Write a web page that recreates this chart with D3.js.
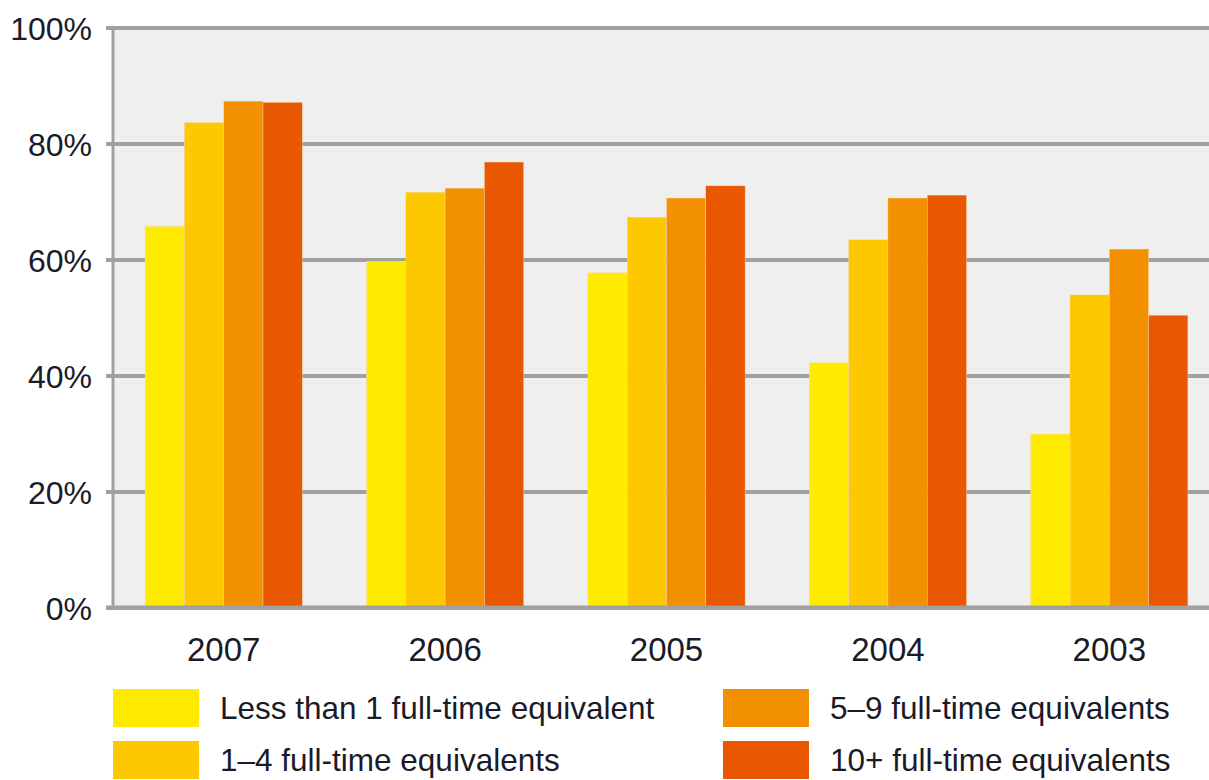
<!DOCTYPE html>
<html>
<head>
<meta charset="utf-8">
<script src="https://cdn.jsdelivr.net/npm/d3@7"></script>
<style>
  body { margin: 0; background: #fff; }
  svg text { font-family: "Liberation Sans", Arial, sans-serif; fill: #1a1a28; }
</style>
</head>
<body>
<svg id="chart" width="1209" height="780"></svg>
<script>
// categories and series
var years = ["2007", "2006", "2005", "2004", "2003"];
var seriesNames = ["Less than 1 full-time equivalent", "1\u20134 full-time equivalents",
                   "5\u20139 full-time equivalents", "10+ full-time equivalents"];
var lessThan1 = [65.7, 59.7, 57.7, 42.2, 29.9];
var oneToFour = [83.6, 71.6, 67.3, 63.4, 53.9];
var fiveToNine = [87.3, 72.3, 70.6, 70.6, 61.8];
var tenPlus = [87.1, 76.8, 72.7, 71.1, 50.4];
var yTicks = [0, 20, 40, 60, 80, 100];
var colors = ["#ffeb00", "#fdc800", "#f39000", "#e95700"];

var seriesValues = [lessThan1, oneToFour, fiveToNine, tenPlus];

var svg = d3.select("#chart"),
    margin = {top: 27.5, left: 113, bottom: 607.5, right: 1220};

var x0 = d3.scaleBand().domain(years).range([margin.left, margin.right])
    .paddingInner(0.29).paddingOuter(0.145);
var x1 = d3.scaleBand().domain(d3.range(seriesNames.length)).range([0, x0.bandwidth()]);
var y = d3.scaleLinear().domain([0, 100]).range([margin.bottom, margin.top]);

// plot background
svg.append("rect")
    .attr("x", margin.left).attr("y", margin.top)
    .attr("width", 1209 - margin.left).attr("height", margin.bottom - margin.top)
    .attr("fill", "#efefef");

// gridlines + y labels
var yAxis = svg.append("g")
    .attr("transform", "translate(" + margin.left + ",0)")
    .call(d3.axisLeft(y).tickValues(yTicks).tickSize(-(1209 - margin.left)).tickPadding(20)
        .tickFormat(function(d) { return d + "%"; }));
yAxis.select(".domain").remove();
yAxis.selectAll(".tick line")
    .attr("x1", -7)
    .attr("stroke", "#a0a0a0").attr("stroke-width", 4);
yAxis.selectAll(".tick text")
    .attr("font-size", 32).attr("x", -21).attr("dy", "0.36em");

// left axis line
svg.append("line")
    .attr("x1", margin.left).attr("x2", margin.left)
    .attr("y1", margin.top).attr("y2", margin.bottom)
    .attr("stroke", "#a0a0a0").attr("stroke-width", 3);

// bars
var groups = svg.selectAll(".year")
    .data(years)
    .enter().append("g")
    .attr("class", "year")
    .attr("transform", function(d) { return "translate(" + x0(d) + ",0)"; });

groups.selectAll("rect")
    .data(function(d, i) { return seriesValues.map(function(s, k) { return {k: k, v: s[i]}; }); })
    .enter().append("rect")
    .attr("x", function(d) { return x1(d.k); })
    .attr("y", function(d) { return y(d.v); })
    .attr("width", x1.bandwidth())
    .attr("height", function(d) { return y(0) - y(d.v); })
    .attr("fill", function(d) { return colors[d.k]; })
    .attr("stroke", "#f7d9b0").attr("stroke-width", 0.4);

// bottom axis line redrawn over bars
svg.append("line")
    .attr("x1", margin.left - 7).attr("x2", 1209)
    .attr("y1", y(0)).attr("y2", y(0))
    .attr("stroke", "#a0a0a0").attr("stroke-width", 4);

// x labels
var xAxis = svg.append("g")
    .attr("transform", "translate(0," + y(0) + ")")
    .call(d3.axisBottom(x0).tickSize(0).tickPadding(30));
xAxis.select(".domain").remove();
xAxis.selectAll(".tick text").attr("font-size", 33).attr("dy", "0.71em");

// legend
var legendPos = [[113, 689], [113, 741], [723, 689], [723, 741]];
var legend = svg.selectAll(".legend")
    .data(seriesNames)
    .enter().append("g")
    .attr("class", "legend")
    .attr("transform", function(d, i) { return "translate(" + legendPos[i][0] + "," + legendPos[i][1] + ")"; });
legend.append("rect")
    .attr("width", 86).attr("height", 38)
    .attr("fill", function(d, i) { return colors[i]; });
legend.append("text")
    .attr("x", 107).attr("y", 19).attr("dy", "0.36em")
    .attr("font-size", 31.5)
    .text(function(d) { return d; });
</script>
</body>
</html>
